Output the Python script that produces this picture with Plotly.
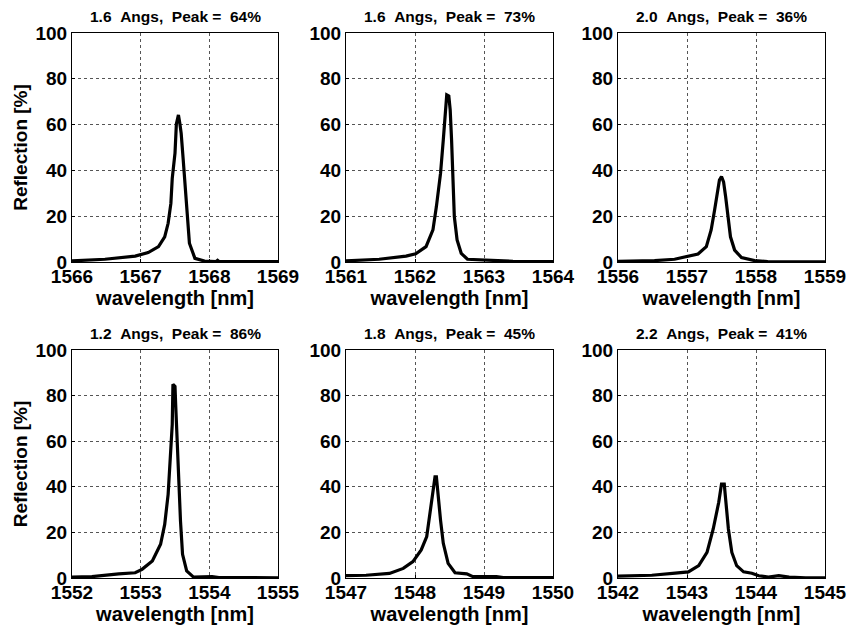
import plotly.graph_objects as go

# ---- data ----
titles = ["1.6\u00a0\u00a0Angs,\u00a0\u00a0Peak\u00a0=\u00a0\u00a064%",
          "1.6\u00a0\u00a0Angs,\u00a0\u00a0Peak\u00a0=\u00a0\u00a073%",
          "2.0\u00a0\u00a0Angs,\u00a0\u00a0Peak\u00a0=\u00a0\u00a036%",
          "1.2\u00a0\u00a0Angs,\u00a0\u00a0Peak\u00a0=\u00a0\u00a086%",
          "1.8\u00a0\u00a0Angs,\u00a0\u00a0Peak\u00a0=\u00a0\u00a045%",
          "2.2\u00a0\u00a0Angs,\u00a0\u00a0Peak\u00a0=\u00a0\u00a041%"]

x_ranges = [(1566, 1569), (1561, 1564), (1556, 1559),
            (1552, 1555), (1547, 1550), (1542, 1545)]

wl_1 = [1566.00, 1566.48, 1566.92, 1567.11, 1567.26, 1567.35, 1567.40, 1567.44, 1567.46,
        1567.50, 1567.52, 1567.55, 1567.57, 1567.59, 1567.62, 1567.65, 1567.68, 1567.71,
        1567.79, 1567.93, 1568.10, 1568.12, 1568.14, 1568.50, 1569.00]
r_1 = [0.5, 1.2, 2.6, 4.1, 6.7, 11.0, 16.9, 25.6, 36.5,
       47.5, 60.3, 64.2, 60.6, 56.2, 44.5, 31.4, 19.8, 8.2,
       1.6, 0.4, 0.2, 0.7, 0.2, 0.2, 0.2]

wl_2 = [1561.00, 1561.48, 1561.87, 1562.01, 1562.16, 1562.26, 1562.31, 1562.37, 1562.41,
        1562.44, 1562.46, 1562.49, 1562.51, 1562.53, 1562.55, 1562.57, 1562.61, 1562.67,
        1562.76, 1562.93, 1563.22, 1563.42, 1564.00]
r_2 = [0.5, 1.2, 2.6, 3.6, 6.7, 14.0, 24.2, 38.7, 53.3,
       66.4, 73.0, 72.5, 66.4, 53.3, 37.3, 19.8, 9.6, 3.8,
       1.2, 0.9, 0.6, 0.3, 0.2]

wl_3 = [1556.00, 1556.53, 1556.82, 1557.01, 1557.16, 1557.28, 1557.35, 1557.40, 1557.44,
        1557.47, 1557.50, 1557.53, 1557.56, 1557.59, 1557.63, 1557.69, 1557.79, 1557.98,
        1558.17, 1559.00]
r_3 = [0.3, 0.6, 1.2, 2.6, 3.5, 6.7, 14.0, 22.7, 30.0,
       35.8, 37.3, 35.0, 28.5, 20.0, 11.0, 5.2, 1.9, 0.6,
       0.2, 0.1]

wl_4 = [1552.00, 1552.29, 1552.68, 1552.92, 1553.02, 1553.17, 1553.29, 1553.35, 1553.40,
        1553.43, 1553.46, 1553.47, 1553.50, 1553.51, 1553.53, 1553.55, 1553.58, 1553.61,
        1553.67, 1553.77, 1553.94, 1554.04, 1554.14, 1555.00]
r_4 = [0.4, 0.6, 1.8, 2.3, 3.8, 7.5, 14.8, 23.5, 36.7,
       54.2, 67.4, 85.0, 84.0, 76.0, 61.5, 42.5, 25.0, 10.4,
       3.1, 0.4, 0.6, 0.6, 0.2, 0.1]

wl_5 = [1547.00, 1547.29, 1547.63, 1547.83, 1547.97, 1548.09, 1548.17, 1548.22, 1548.26,
        1548.29, 1548.31, 1548.33, 1548.37, 1548.41, 1548.48, 1548.58, 1548.75, 1548.84,
        1549.18, 1549.28, 1550.00]
r_5 = [1.0, 1.2, 2.0, 4.2, 7.2, 12.3, 18.2, 28.4, 38.6,
       44.4, 44.4, 37.1, 25.4, 15.2, 6.4, 2.3, 1.8, 0.6,
       0.6, 0.2, 0.2]

wl_6 = [1542.00, 1542.49, 1542.83, 1543.02, 1543.17, 1543.29, 1543.38, 1543.46, 1543.50,
        1543.54, 1543.56, 1543.60, 1543.65, 1543.72, 1543.82, 1543.94, 1544.04, 1544.18,
        1544.33, 1544.48, 1544.72, 1545.00]
r_6 = [0.8, 1.2, 2.1, 2.7, 5.4, 11.2, 21.5, 33.2, 41.2,
       41.2, 34.6, 21.5, 11.2, 5.4, 2.7, 2.1, 1.0, 0.4,
       1.0, 0.4, 0.1, 0.1]

wavelengths = [wl_1, wl_2, wl_3, wl_4, wl_5, wl_6]
reflections = [r_1, r_2, r_3, r_4, r_5, r_6]

y_ticks = [0, 20, 40, 60, 80, 100]

# ---- layout geometry (pixels in 848x627) ----
W, H = 848, 627
col_px = [(72, 278), (346, 553), (618, 825)]
row_px = [(33, 262), (350, 578)]

FONT = "Liberation Sans, Arial, Helvetica, sans-serif"

fig = go.Figure()
annotations = []
layout_axes = {}

for i in range(6):
    r, c = divmod(i, 3)
    idx = "" if i == 0 else str(i + 1)
    xa, ya = "x" + idx, "y" + idx
    x0, x1 = col_px[c]
    yt, yb = row_px[r]
    xdom = [x0 / W, x1 / W]
    ydom = [1 - yb / H, 1 - yt / H]

    fig.add_trace(go.Scatter(x=wavelengths[i], y=reflections[i], mode="lines",
                             line=dict(color="black", width=3.2),
                             xaxis=xa, yaxis=ya, showlegend=False))

    lo, hi = x_ranges[i]
    layout_axes["xaxis" + idx] = dict(
        domain=xdom, range=[lo, hi], anchor=ya, automargin=False,
        tickmode="array", tickvals=list(range(lo, hi + 1)),
        ticktext=[str(v) for v in range(lo, hi + 1)],
        showgrid=True, gridcolor="#555", griddash="dot", gridwidth=1,
        showline=True, linecolor="black", linewidth=1, mirror=True,
        ticks="inside", ticklen=3, tickcolor="black",
        zeroline=False, ticklabelstandoff=-3,
        tickfont=dict(family=FONT, size=19, color="black", weight="bold"),
        title=dict(text="wavelength [nm]", standoff=2,
                   font=dict(family=FONT, size=20, color="black", weight="bold")),
    )
    yax = dict(
        domain=ydom, range=[0, 100], anchor=xa, automargin=False,
        tickmode="array", tickvals=y_ticks,
        showgrid=True, gridcolor="#555", griddash="dot", gridwidth=1,
        showline=True, linecolor="black", linewidth=1, mirror=True,
        ticks="inside", ticklen=3, tickcolor="black",
        zeroline=False,
        tickfont=dict(family=FONT, size=19, color="black", weight="bold"),
    )
    if c == 0:
        yax["title"] = dict(text="Reflection [%]", standoff=2,
                            font=dict(family=FONT, size=19, color="black", weight="bold"))
    layout_axes["yaxis" + idx] = yax

    annotations.append(dict(
        text=titles[i], xref="paper", yref="paper",
        x=(x0 + x1) / 2 / W, y=1 - (yt - 6) / H,
        xanchor="center", yanchor="bottom", showarrow=False,
        font=dict(family=FONT, size=15.5, color="black", weight="bold"),
    ))

fig.update_layout(
    width=W, height=H,
    margin=dict(l=0, r=0, t=0, b=0),
    paper_bgcolor="white", plot_bgcolor="white",
    annotations=annotations,
    **layout_axes,
)

fig.write_html("out.html", config={"displayModeBar": False},
               post_script="document.body.style.margin='0';document.body.style.padding='0';")
